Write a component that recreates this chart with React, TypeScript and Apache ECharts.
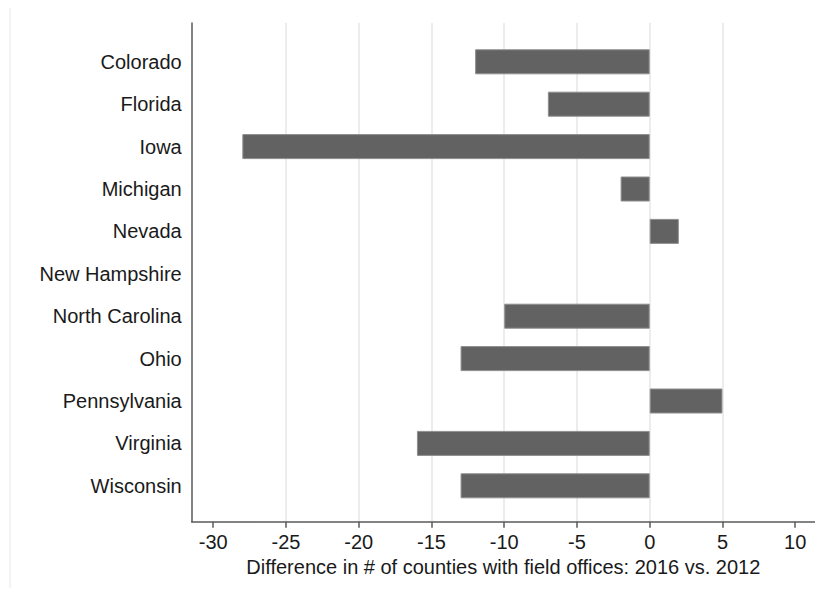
import React, { useEffect, useRef } from "react";
import * as echarts from "echarts";

const categories = [
  "Colorado",
  "Florida",
  "Iowa",
  "Michigan",
  "Nevada",
  "New Hampshire",
  "North Carolina",
  "Ohio",
  "Pennsylvania",
  "Virginia",
  "Wisconsin",
];
const differences = [-12, -7, -28, -2, 2, 0, -10, -13, 5, -16, -13];
const tickValues = [-30, -25, -20, -15, -10, -5, 0, 5, 10];
const xAxisTitle = "Difference in # of counties with field offices: 2016 vs. 2012";

const X_MIN = -31.48;
const X_MAX = 11.36;
const FONT = "'Liberation Sans', Arial, Helvetica, sans-serif";

export default function App() {
  const ref = useRef<HTMLDivElement>(null);
  useEffect(() => {
    if (!ref.current) return;
    const chart = echarts.init(ref.current, null, { renderer: "svg" });
    chart.setOption({
      animation: false,
      backgroundColor: "#ffffff",
      graphic: [
        {
          type: "rect",
          shape: { x: 10, y: 2, width: 900, height: 700 },
          style: { fill: "none", stroke: "#e8e8e8", lineWidth: 1 },
          silent: true,
        },
        {
          type: "text",
          x: 39,
          y: 5,
          style: {
            text: "Fig",
            font: `bold 20px ${FONT}`,
            fill: "#000",
            verticalAlign: "bottom",
          },
          silent: true,
        },
      ],
      grid: [
        { left: 191.7, right: 8, top: 23, height: 498.7, containLabel: false },
        { left: 191.7, right: 8, top: 40.6, height: 466.4, containLabel: false },
      ],
      xAxis: [
        {
          gridIndex: 0,
          type: "value",
          min: X_MIN,
          max: X_MAX,
          splitNumber: 9,
          axisLine: { show: true, onZero: false, lineStyle: { color: "#5a5a5a", width: 1.5 } },
          axisTick: {
            show: true,
            length: 6,
            customValues: tickValues,
            lineStyle: { color: "#5a5a5a", width: 1.5 },
          },
          axisLabel: {
            customValues: tickValues,
            fontFamily: FONT,
            fontSize: 20,
            color: "#1a1a1a",
            margin: 10,
          },
          splitLine: {
            show: true,
            showMinLine: false,
            showMaxLine: false,
            lineStyle: { color: "#e6e6e6", width: 1.5 },
          },
          name: xAxisTitle,
          nameLocation: "middle",
          nameGap: 35,
          nameTextStyle: { fontFamily: FONT, fontSize: 20, color: "#1a1a1a" },
        },
        {
          gridIndex: 1,
          type: "value",
          min: X_MIN,
          max: X_MAX,
          show: false,
          splitLine: { show: false },
        },
      ],
      yAxis: [
        {
          gridIndex: 0,
          type: "value",
          min: 0,
          max: 1,
          position: "left",
          axisLine: { show: true, onZero: false, lineStyle: { color: "#5a5a5a", width: 1.5 } },
          axisTick: { show: false },
          axisLabel: { show: false },
          splitLine: { show: false },
        },
        {
          gridIndex: 1,
          type: "category",
          inverse: true,
          data: categories,
          axisLine: { show: false },
          axisTick: { show: false },
          axisLabel: {
            fontFamily: FONT,
            fontSize: 20,
            color: "#1a1a1a",
            margin: 10,
          },
          splitLine: { show: false },
        },
      ],
      series: [
        {
          type: "bar",
          xAxisIndex: 1,
          yAxisIndex: 1,
          data: differences.map((v) =>
            v === 0 ? { value: v, itemStyle: { borderWidth: 0 } } : v
          ),
          barWidth: 25,
          itemStyle: { color: "#626262", borderColor: "#8e8e8e", borderWidth: 1 },
        },
      ],
    });
    return () => chart.dispose();
  }, []);
  return <div ref={ref} style={{ width: 823, height: 596, margin: -8 }} />;
}
